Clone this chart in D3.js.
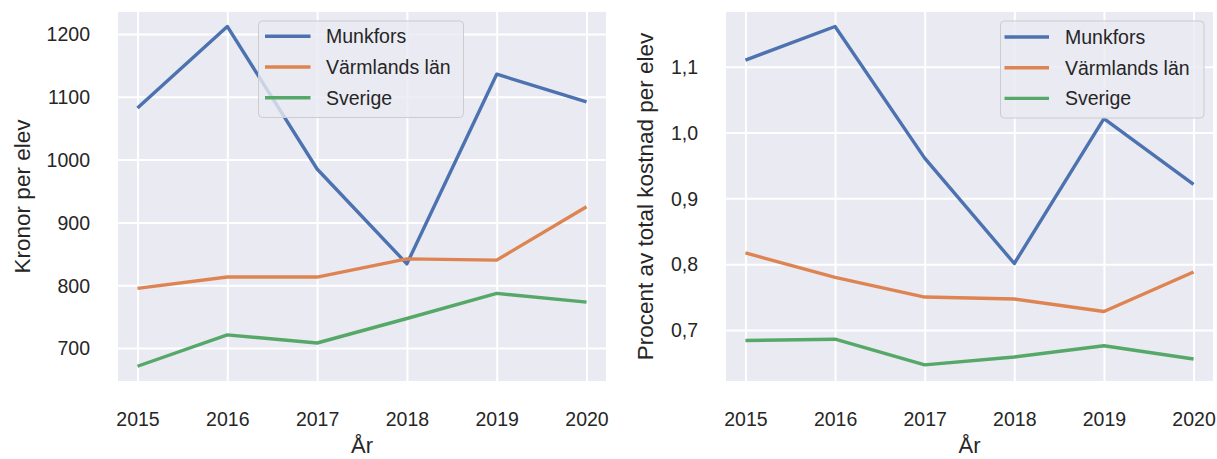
<!DOCTYPE html>
<html>
<head>
<meta charset="utf-8">
<script src="https://cdn.jsdelivr.net/npm/d3@7"></script>
<style>
  html, body { margin: 0; padding: 0; background: #ffffff; }
  svg { display: block; font-family: "Liberation Sans", Arial, sans-serif; }
</style>
</head>
<body>
<svg id="chart" width="1217" height="459"></svg>
<script>
// ---- data ----
const years = [2015, 2016, 2017, 2018, 2019, 2020];
const seriesNames = ["Munkfors", "Värmlands län", "Sverige"];

// Left panel: Kronor per elev
const kronorMunkfors = [1082, 1212, 985, 834, 1136, 1092];
const kronorVarmland = [795, 813, 813, 842, 840, 925];
const kronorSverige  = [671, 721, 708, 747, 787, 773];

// Right panel: Procent av total kostnad per elev
const procentMunkfors = [1.110, 1.161, 0.961, 0.801, 1.021, 0.921];
const procentVarmland = [0.817, 0.780, 0.750, 0.747, 0.728, 0.788];
const procentSverige  = [0.684, 0.686, 0.647, 0.659, 0.676, 0.656];

const kronorTicks  = [700, 800, 900, 1000, 1100, 1200];
const procentTicks = [0.7, 0.8, 0.9, 1.0, 1.1];

const xLabel = "År";
const leftYLabel = "Kronor per elev";
const rightYLabel = "Procent av total kostnad per elev";

// ---- styles ----
const colors = ["#4c72b0", "#dd8452", "#55a868"];
const bg = "#eaeaf2";
const textColor = "#262626";

const svg = d3.select("#chart");
const commaFmt = d3.formatLocale({decimal: ",", thousands: "\u00a0", grouping: [3], currency: ["", " kr"]}).format(".1f");

function panel(opts) {
  const {left, right, top, bottom, yDomain, yTicks, yFmt, data, yLabel, yLabelX, legend} = opts;
  const w = right - left, h = bottom - top;
  const g = svg.append("g").attr("transform", `translate(${left},${top})`);

  const x = d3.scaleLinear().domain([2014.783, 2020.217]).range([0, w]);
  const y = d3.scaleLinear().domain(yDomain).range([h, 0]);

  g.append("rect").attr("width", w).attr("height", h).attr("fill", bg);

  // y grid + labels
  const ya = g.append("g").call(d3.axisLeft(y).tickValues(yTicks).tickSize(-w).tickPadding(28).tickFormat(yFmt));
  ya.select(".domain").remove();
  ya.selectAll(".tick line").attr("stroke", "#ffffff").attr("stroke-width", 2);
  ya.selectAll(".tick text").attr("fill", textColor).style("font-size", "19.5px").attr("dy", "0.35em");

  // x grid + labels
  const xa = g.append("g").attr("transform", `translate(0,${h})`)
    .call(d3.axisBottom(x).tickValues(years).tickSize(-h).tickFormat(d3.format("d")));
  xa.select(".domain").remove();
  xa.selectAll(".tick line").attr("stroke", "#ffffff").attr("stroke-width", 2);
  xa.selectAll(".tick text").attr("fill", textColor).style("font-size", "19.5px").attr("y", 44.5).attr("dy", 0);

  // lines
  const line = d3.line().x((d, i) => x(years[i])).y(d => y(d));
  data.forEach((vals, k) => {
    g.append("path").datum(vals).attr("d", line)
      .attr("fill", "none").attr("stroke", colors[k]).attr("stroke-width", 3.4)
      .attr("stroke-linejoin", "round").attr("stroke-linecap", "butt");
  });

  // axis labels
  svg.append("text").attr("x", left + w / 2).attr("y", 453)
    .attr("text-anchor", "middle").attr("fill", textColor).style("font-size", "22px").text(xLabel);
  svg.append("text").attr("transform", `translate(${yLabelX},${top + h / 2}) rotate(-90)`)
    .attr("text-anchor", "middle").attr("fill", textColor).style("font-size", "22.5px").text(yLabel);

  // legend
  const lg = svg.append("g");
  lg.append("rect").attr("x", legend.x0).attr("y", legend.y0)
    .attr("width", legend.x1 - legend.x0).attr("height", legend.y1 - legend.y0)
    .attr("rx", 4).attr("fill", bg).attr("fill-opacity", 0.8)
    .attr("stroke", "#cccccc").attr("stroke-width", 1);
  seriesNames.forEach((name, k) => {
    const cy = legend.rowY + k * 30.7;
    lg.append("line").attr("x1", legend.lx0).attr("x2", legend.lx1).attr("y1", cy).attr("y2", cy)
      .attr("stroke", colors[k]).attr("stroke-width", 3.4);
    lg.append("text").attr("x", legend.tx).attr("y", cy).attr("dy", "0.35em")
      .attr("fill", textColor).style("font-size", "19.5px").text(name);
  });
}

panel({
  left: 118, right: 606, top: 12, bottom: 381,
  yDomain: [647.5, 1235], yTicks: kronorTicks, yFmt: d3.format("d"),
  data: [kronorMunkfors, kronorVarmland, kronorSverige],
  yLabel: leftYLabel, yLabelX: 30,
  legend: {x0: 258.5, x1: 463.5, y0: 21, y1: 117.5, lx0: 265, lx1: 310.5, tx: 326, rowY: 36.3}
});

panel({
  left: 726, right: 1213, top: 12, bottom: 381,
  yDomain: [0.6225, 1.183], yTicks: procentTicks, yFmt: commaFmt,
  data: [procentMunkfors, procentVarmland, procentSverige],
  yLabel: rightYLabel, yLabelX: 653,
  legend: {x0: 1000.5, x1: 1204, y0: 21, y1: 118, lx0: 1004.5, lx1: 1049, tx: 1065, rowY: 37}
});
</script>
</body>
</html>
